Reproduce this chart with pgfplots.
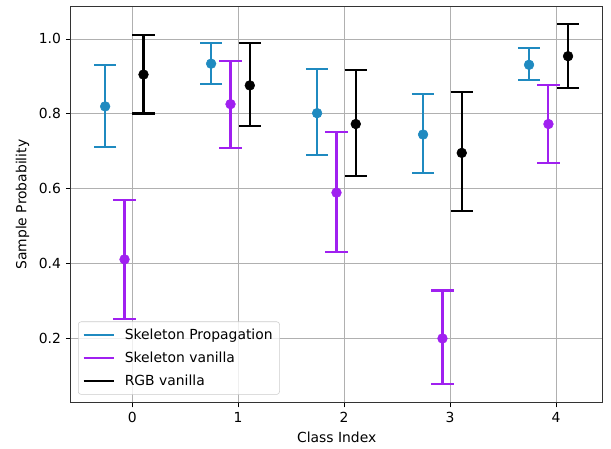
\documentclass[border=0pt]{standalone}
\usepackage{pgfplots}
\pgfplotsset{compat=1.18}
\usepackage{fontspec}
\setmainfont{DejaVu Sans}
\definecolor{skblue}{RGB}{31,138,192}
\definecolor{skpurple}{RGB}{160,32,240}
\definecolor{gridgray}{RGB}{176,176,176}
\begin{document}
\begin{tikzpicture}[x=1pt,y=1pt]
\def\px{0.72pt}
\begin{axis}[
  scale only axis,
  width=383pt, height=285pt,
  xmin=-0.58, xmax=4.44,
  ymin=0.030, ymax=1.086,
  xtick={0,1,2,3,4},
  ytick={0.2,0.4,0.6,0.8,1.0},
  yticklabel style={/pgf/number format/fixed,/pgf/number format/fixed zerofill,/pgf/number format/precision=1},
  /pgf/number format/assume math mode=true,
  ticklabel style={font=\fontsize{10}{12}\selectfont},
  label style={font=\fontsize{10}{12}\selectfont},
  xlabel={Class Index},
  ylabel={Sample Probability},
  grid=major,
  major grid style={gridgray, line width=0.6pt},
  axis line style={black!80, line width=0.6pt},
  tick style={black, line width=0.6pt},
  tick align=outside,
  major tick length=3.5pt,
  xtick pos=bottom, ytick pos=left,
  legend style={at={(axis cs:-0.511,0.051)}, anchor=south west,
    draw=black!20, fill=white, fill opacity=0.8, text opacity=1,
    rounded corners=2pt, font=\fontsize{10}{12}\selectfont,
    inner sep=3pt, row sep=3.5pt,
    /tikz/every odd column/.append style={column sep=5pt}},
  legend cell align=left,
  legend image code/.code={\draw[#1, mark=none, line width=1.5pt] (0pt,0pt) -- (22pt,0pt);},
  error bars/error bar style={line width=1.5pt},
  error bars/error mark options={rotate=90, mark size=8pt, line width=1.5pt},
]
\addplot[skblue, only marks, mark=*, mark size=3.5pt,
  error bars/.cd, y dir=both, y explicit]
  coordinates {
  (-0.255,0.820) += (0,0.110) -= (0,0.108)
  (0.745,0.934) += (0,0.055) -= (0,0.053)
  (1.745,0.802) += (0,0.119) -= (0,0.112)
  (2.745,0.745) += (0,0.108) -= (0,0.102)
  (3.745,0.931) += (0,0.044) -= (0,0.041)
  };
\addlegendentry{Skeleton Propagation}
\addplot[skpurple, only marks, mark=*, mark size=3.5pt,
  error bars/.cd, y dir=both, y explicit]
  coordinates {
  (-0.072,0.412) += (0,0.159) -= (0,0.158)
  (0.928,0.826) += (0,0.114) -= (0,0.117)
  (1.928,0.590) += (0,0.162) -= (0,0.159)
  (2.928,0.201) += (0,0.128) -= (0,0.122)
  (3.928,0.773) += (0,0.104) -= (0,0.104)
  };
\addlegendentry{Skeleton vanilla}
\addplot[black, only marks, mark=*, mark size=3.5pt,
  error bars/.cd, y dir=both, y explicit]
  coordinates {
  (0.107,0.905) += (0,0.106) -= (0,0.104)
  (1.110,0.876) += (0,0.112) -= (0,0.109)
  (2.110,0.773) += (0,0.145) -= (0,0.138)
  (3.110,0.696) += (0,0.163) -= (0,0.155)
  (4.113,0.954) += (0,0.087) -= (0,0.085)
  };
\addlegendentry{RGB vanilla}
\end{axis}
\pgfresetboundingbox
\path (current axis.south west) ++(-70.7*\px,-46.3*\px) coordinate (bl);
\path (current axis.north east) ++(8.3*\px,6.7*\px) coordinate (tr);
\path[use as bounding box] (bl) rectangle (tr);
\end{tikzpicture}
\end{document}
